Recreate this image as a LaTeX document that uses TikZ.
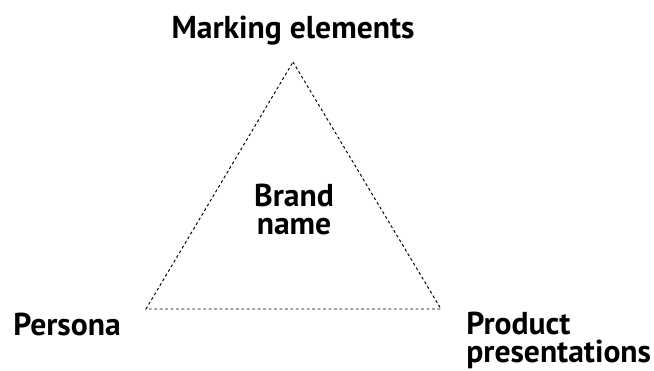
\documentclass[tikz,border=0pt]{standalone}
\usepackage{fontspec}
\setmainfont{PT Sans}
\usepackage{tikz}
\usetikzlibrary{positioning}

\begin{document}
\begin{tikzpicture}[x=0.02cm, y=-0.02cm,
    every node/.style={font=\fontsize{18pt}{15.5pt}\selectfont\bfseries, inner sep=0pt},
    edge/.style={draw=black, line width=0.55pt, dash pattern=on 1.6pt off 1.5pt}]
    \useasboundingbox (0,0) rectangle (654,370);
    % corners of the triangle
    \coordinate (top) at (293,62);
    \coordinate (left) at (146,309);
    \coordinate (right) at (441,309);
    \draw[edge] (top) -- (right) -- (left) -- cycle;
    % labels (base = last line)
    \node[anchor=base] (marking) at (293,38) {Marking elements};
    \node[anchor=base, align=center] (brand) at (294,234) {Brand\\name};
    \node[anchor=base west] (persona) at (13,335) {Persona};
    \node[anchor=base west, align=left] (product) at (466,362) {Product\\presentations};
  \end{tikzpicture}
\end{document}
